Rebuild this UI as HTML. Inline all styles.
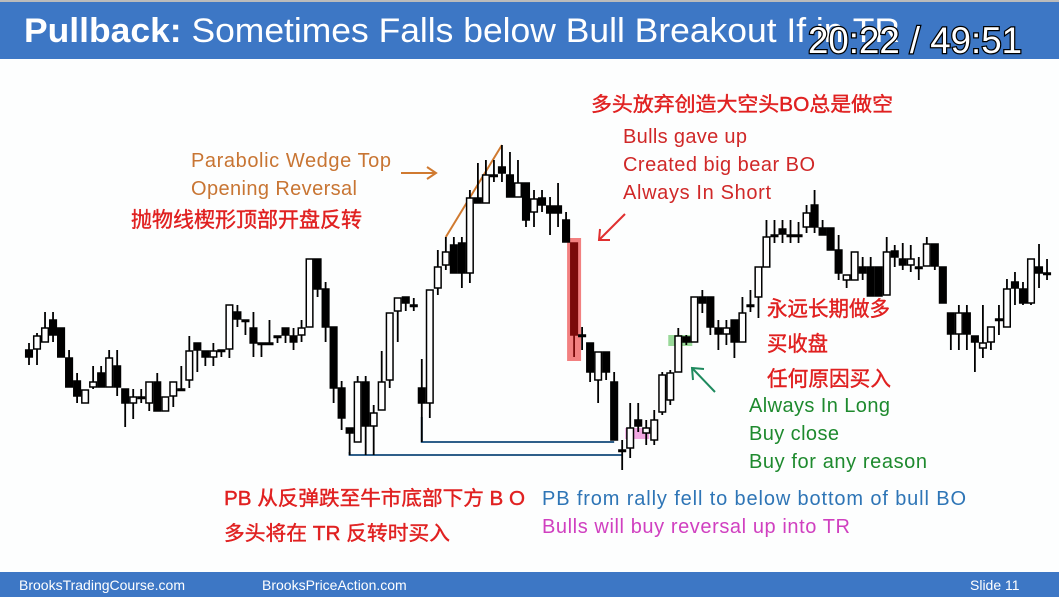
<!DOCTYPE html>
<html><head><meta charset="utf-8"><style>
html,body{margin:0;padding:0;background:#fff;}
svg{display:block;}
</style></head><body>
<svg id="chart" width="1059" height="597" viewBox="0 0 1059 597" xmlns="http://www.w3.org/2000/svg">
<rect x="0" y="0" width="1059" height="597" fill="#fdfefe"/>
<rect x="0" y="0" width="1059" height="2" fill="#bbb"/>
<rect x="0" y="2" width="1059" height="57" fill="#3d77c5"/>
<text x="24" y="42" font-family="Liberation Sans, sans-serif" font-size="34" fill="#fff" textLength="876" lengthAdjust="spacingAndGlyphs"><tspan font-weight="bold">Pullback:</tspan> Sometimes Falls below Bull Breakout If in TR</text>
<text x="808" y="53" font-family="Liberation Sans, sans-serif" font-size="37" fill="#fff" stroke="#000" stroke-width="2.5" paint-order="stroke" textLength="214" lengthAdjust="spacingAndGlyphs">20:22 / 49:51</text>
<rect x="0" y="572" width="1059" height="25" fill="#3d77c5"/>
<text x="19" y="590" font-family="Liberation Sans, sans-serif" font-size="14" fill="#fff">BrooksTradingCourse.com</text>
<text x="262" y="590" font-family="Liberation Sans, sans-serif" font-size="14" fill="#fff">BrooksPriceAction.com</text>
<text x="970" y="590" font-family="Liberation Sans, sans-serif" font-size="14" fill="#fff">Slide  11</text>
<g id="highlights"></g>
<g id="lines"></g>
<g id="candles"></g>
<g id="notes" font-family="Liberation Sans, 'Noto Sans CJK SC', sans-serif">
<text x="591" y="111" font-size="20" fill="#e02020" stroke="#e02020" stroke-width="0.4" textLength="302" lengthAdjust="spacingAndGlyphs">多头放弃创造大空头BO总是做空</text>
<text x="623" y="143" font-size="20" fill="#d02828" textLength="124">Bulls gave up</text>
<text x="623" y="171" font-size="20" fill="#d02828" textLength="192">Created big bear BO</text>
<text x="623" y="199" font-size="20" fill="#d02828" textLength="148">Always In Short</text>
<text x="191" y="167" font-size="20" fill="#c87533" textLength="200">Parabolic Wedge Top</text>
<text x="191" y="195" font-size="20" fill="#c87533" textLength="166">Opening Reversal</text>
<text x="131" y="227" font-size="21" fill="#e02020" stroke="#e02020" stroke-width="0.4" textLength="231" lengthAdjust="spacingAndGlyphs">抛物线楔形顶部开盘反转</text>
<text x="767" y="316" font-size="21" fill="#e02020" stroke="#e02020" stroke-width="0.4" textLength="123" lengthAdjust="spacingAndGlyphs">永远长期做多</text>
<text x="767" y="351" font-size="21" fill="#e02020" stroke="#e02020" stroke-width="0.4" textLength="61" lengthAdjust="spacingAndGlyphs">买收盘</text>
<text x="767" y="386" font-size="21" fill="#e02020" stroke="#e02020" stroke-width="0.4" textLength="124" lengthAdjust="spacingAndGlyphs">任何原因买入</text>
<text x="749" y="412" font-size="20" fill="#1e8a2e" textLength="141">Always In Long</text>
<text x="749" y="440" font-size="20" fill="#1e8a2e" textLength="90">Buy close</text>
<text x="749" y="468" font-size="20" fill="#1e8a2e" textLength="178">Buy for any reason</text>
<text x="224" y="505" font-size="20" fill="#e02020" stroke="#e02020" stroke-width="0.4" textLength="301" lengthAdjust="spacingAndGlyphs">PB 从反弹跌至牛市底部下方 B O</text>
<text x="224" y="540" font-size="20" fill="#e02020" stroke="#e02020" stroke-width="0.4" textLength="226" lengthAdjust="spacingAndGlyphs">多头将在 TR 反转时买入</text>
<text x="542" y="505" font-size="20" fill="#2e75b6" textLength="424">PB from rally fell to below bottom of bull BO</text>
<text x="542" y="533" font-size="20" fill="#d040c0" textLength="308">Bulls will buy reversal up into TR</text>
</g>
<g id="arrows" stroke-width="2" fill="none">
<line x1="401" y1="173" x2="435" y2="173" stroke="#d07a30"/>
<polyline points="427,167 436,173 427,179" stroke="#d07a30"/>
<line x1="625" y1="214" x2="600" y2="239" stroke="#e03030"/>
<polyline points="600,229 599,240 610,240" stroke="#e03030"/>
<line x1="715" y1="392" x2="693" y2="369" stroke="#1e8a5e"/>
<polyline points="693,380 692,368 704,369" stroke="#1e8a5e"/>
</g>
</svg>
<script>
const opens  = [150,151,158,180,172,142,119,97,113,127,113,134,111,97,103,97,118,89,104,111,120,157,149,143,150,151,188,180,172,157,157,164,172,164,165,173,241,211,173,112,72,58,118,74,90,120,189,203,195,112,97,212,235,255,257,227,302,297,325,333,325,303,317,288,302,294,294,280,257,165,157,120,148,118,50,52,80,67,60,88,100,128,163,158,203,203,172,166,180,158,195,203,233,265,271,265,265,273,295,272,272,250,220,220,233,233,233,205,249,241,235,233,234,256,233,187,166,187,164,152,158,181,173,218,211,197,233,227];
const highs  = [157,167,188,188,172,150,127,110,134,134,150,150,111,111,111,118,127,103,118,134,164,157,149,157,150,195,195,180,188,157,180,164,172,172,180,241,241,218,173,119,72,124,124,95,149,187,202,203,202,141,210,250,263,263,263,310,337,340,340,355,348,340,317,310,310,303,317,288,257,173,157,148,148,128,60,97,97,80,90,128,130,172,165,203,210,203,180,180,180,203,210,233,280,280,280,280,278,295,310,280,272,265,225,248,243,243,233,263,255,257,255,243,263,256,233,187,195,195,164,195,173,195,221,228,218,241,256,241];
const lows   = [135,135,158,158,143,113,97,97,111,113,113,104,73,81,97,89,89,89,93,111,112,128,134,134,143,142,173,165,143,143,157,157,157,150,158,173,203,158,97,70,45,58,45,45,90,112,158,189,189,58,82,205,230,227,212,217,297,297,318,318,303,303,273,273,288,265,273,258,143,150,118,97,120,60,30,42,68,55,55,85,95,128,155,158,187,165,150,155,142,158,188,182,233,257,257,257,257,267,267,265,250,220,212,220,220,204,204,205,233,230,228,220,234,230,197,150,150,150,128,142,150,165,173,195,195,195,212,220];
const closes = [143,164,172,165,143,113,104,110,118,113,142,113,97,103,103,118,89,103,118,111,149,150,143,149,150,195,181,180,157,157,157,164,165,158,172,241,211,173,112,82,67,118,74,87,118,187,202,197,195,97,210,233,248,227,227,302,297,325,325,327,303,317,280,301,295,287,287,258,165,165,128,148,128,60,50,72,74,72,80,125,127,164,158,203,197,173,166,172,158,187,195,233,263,265,266,265,265,287,273,265,250,227,225,248,227,204,204,248,243,235,241,233,256,234,197,166,187,166,158,157,173,181,211,212,197,241,227,227];
const highlightBar = 68;
const NS = 'http://www.w3.org/2000/svg';
const x0 = 29, step = 8.016;
function xScale(i){ return x0 + i*step; }
function yScale(p){ return 500 - p; }
const cg = document.getElementById('candles');
const hg = document.getElementById('highlights');
const lg = document.getElementById('lines');
function mk(tag, attrs, parent){ const e=document.createElementNS(NS,tag); for(const k in attrs) e.setAttribute(k,attrs[k]); parent.appendChild(e); return e; }
let hb = mk('rect',{x:xScale(highlightBar)-7,y:yScale(highs[highlightBar])-5,width:14,height:yScale(lows[highlightBar])-yScale(highs[highlightBar])+9,fill:'#f06a6a',opacity:0.85},hg);


let gh = mk('rect',{x:xScale(80)-2,y:yScale(165),width:24,height:11,fill:'#7fcf80',opacity:0.8},hg);


let ph = mk('rect',{x:xScale(74)+3,y:yScale(72),width:24,height:11,fill:'#ee99dd',opacity:0.85},hg);


let b1 = mk('polyline',{points:`${xScale(49)},${yScale(lows[49])-25} ${xScale(49)},${yScale(lows[49])} ${xScale(73)},${yScale(lows[49])}`,stroke:'#2e5f8a','stroke-width':2,fill:'none'},lg);


let b2 = mk('polyline',{points:`${xScale(40)},${yScale(lows[40])-3} ${xScale(40)},${yScale(lows[40])} ${xScale(74)},${yScale(lows[40])}`,stroke:'#2e5f8a','stroke-width':2,fill:'none'},lg);


let wl = mk('line',{x1:xScale(52),y1:yScale(263),x2:xScale(59),y2:yScale(355),stroke:'#d07a30','stroke-width':2},lg);


for(let i=0;i<opens.length;i++){
  const x=xScale(i), o=opens[i], c=closes[i];
  const col = i===highlightBar ? '#7a0a0a' : '#000';
  const w = mk('line',{x1:x,y1:yScale(highs[i]),x2:x,y2:yScale(lows[i]),stroke:col,'stroke-width':1.8},cg);
  
  
  const top=yScale(Math.max(o,c)), bot=yScale(Math.min(o,c));
  const h=Math.max(bot-top,1.5);
  const bull=c>o;
  const r = mk('rect',{x:x-3.3,y:top,width:6.6,height:h,fill:bull?'#fff':col,stroke:col,'stroke-width':1.5},cg);
  
  
}
</script>
</body></html>
